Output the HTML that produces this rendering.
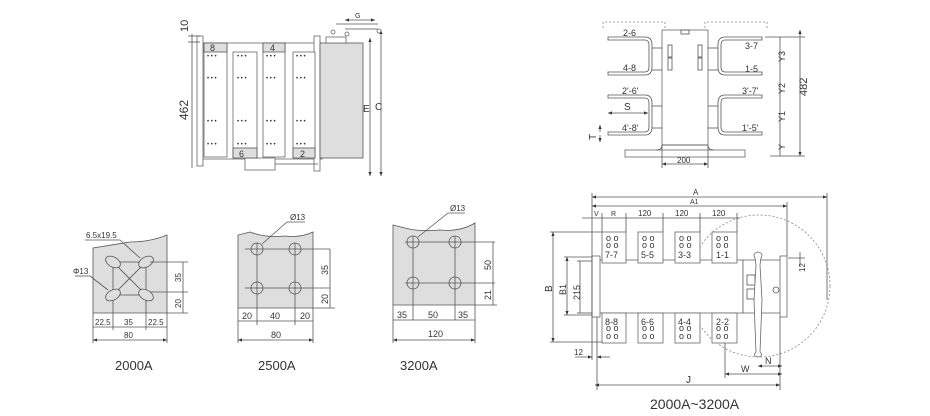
<!DOCTYPE html>
<html><head><meta charset="utf-8"><style>
html,body{margin:0;padding:0;background:#fff;}
svg{display:block;font-family:"Liberation Sans",sans-serif;}
.l{stroke:#555;stroke-width:.8;fill:none}
.g{fill:#dedede;stroke:#555;stroke-width:.8}
.w{fill:#fff;stroke:#666;stroke-width:.8}
.d{stroke:#888;stroke-width:.8;fill:none;stroke-dasharray:2 2}
text{fill:#333;font-size:9px}
</style></head><body>
<svg width="930" height="416" viewBox="0 0 930 416" xmlns="http://www.w3.org/2000/svg">
<defs><marker id="a" markerWidth="6" markerHeight="6" refX="5" refY="3" orient="auto-start-reverse"><path d="M0,1 L5,3 L0,5z" fill="#333"/></marker></defs>

<!-- TOP LEFT front view -->
<g>
<rect class="w" x="200" y="43" width="122" height="116"/>
<rect class="w" x="197" y="36" width="6" height="130"/>
<rect class="w" x="314" y="36" width="6" height="135"/>
<rect class="w" x="245" y="158" width="30" height="12"/>
<line class="l" x1="275" y1="164" x2="318" y2="164"/>
<rect class="g" x="320" y="43" width="43" height="115"/>
<rect class="w" x="326" y="37" width="20" height="6"/>
<g class="w">
<rect x="204" y="43" width="23" height="114"/><rect x="233" y="52" width="24" height="105"/>
<rect x="263" y="43" width="22" height="114"/><rect x="293" y="52" width="22" height="105"/>
</g>
<g class="g"><rect x="204" y="43" width="23" height="9"/><rect x="263" y="43" width="22" height="9"/>
<rect x="233" y="148" width="24" height="10"/><rect x="293" y="148" width="22" height="10"/></g>
<text x="210" y="51">8</text><text x="270" y="51">4</text><text x="239" y="157">6</text><text x="300" y="157">2</text>
<g fill="#555">
<text x="207" y="58" style="font-size:6px">• • •</text><text x="207" y="80" style="font-size:6px">• • •</text><text x="207" y="123" style="font-size:6px">• • •</text><text x="207" y="146" style="font-size:6px">• • •</text>
<text x="237" y="58" style="font-size:6px">• • •</text><text x="237" y="80" style="font-size:6px">• • •</text><text x="237" y="123" style="font-size:6px">• • •</text><text x="237" y="146" style="font-size:6px">• • •</text>
<text x="266" y="58" style="font-size:6px">• • •</text><text x="266" y="80" style="font-size:6px">• • •</text><text x="266" y="123" style="font-size:6px">• • •</text><text x="266" y="146" style="font-size:6px">• • •</text>
<text x="296" y="58" style="font-size:6px">• • •</text><text x="296" y="80" style="font-size:6px">• • •</text><text x="296" y="123" style="font-size:6px">• • •</text><text x="296" y="146" style="font-size:6px">• • •</text>
</g>
<line class="l" x1="192" y1="34" x2="192" y2="168"/>
<line class="l" x1="188" y1="36" x2="200" y2="36"/><line class="l" x1="188" y1="42" x2="200" y2="42"/>
<text x="0" y="0" transform="translate(188,120) rotate(-90)" style="font-size:12px">462</text>
<text x="0" y="0" transform="translate(188,32) rotate(-90)" style="font-size:11px">10</text>
<line class="l" x1="370" y1="38" x2="370" y2="176" marker-start="url(#a)" marker-end="url(#a)"/>
<line class="l" x1="381" y1="30" x2="381" y2="176" marker-start="url(#a)" marker-end="url(#a)"/>
<line class="l" x1="345" y1="29" x2="378" y2="29"/><line class="l" x1="336" y1="24" x2="378" y2="24"/>
<circle class="w" cx="333" cy="32" r="2"/><circle class="w" cx="347" cy="34" r="2"/><circle class="w" cx="379" cy="31" r="2"/>
<line class="l" x1="345" y1="20" x2="375" y2="20" marker-start="url(#a)" marker-end="url(#a)"/>
<text x="355" y="18" style="font-size:7px">G</text>
<text x="363" y="112" style="font-size:10px">E</text><text x="375" y="110" style="font-size:10px">C</text>
</g>

<!-- TOP RIGHT side view -->
<g>
<path class="d" d="M603,28 V22 H665 V28 M705,28 V22 H767 V28"/>
<rect class="w" x="662" y="30" width="46" height="115"/>
<rect class="w" x="625" y="150" width="120" height="7"/>
<path class="l" d="M662,145 Q662,150 656,150 M708,145 Q708,150 714,150"/>
<line class="l" x1="662" y1="145" x2="708" y2="145"/>
<rect class="l" x="668" y="45" width="4" height="12"/><rect class="l" x="668" y="58" width="4" height="12"/>
<rect class="l" x="698" y="45" width="4" height="12"/><rect class="l" x="698" y="58" width="4" height="12"/>
<rect class="l" x="681" y="30" width="8" height="4"/>
<g class="l">
<path d="M608,37 H645 Q652,37 652,45 V67 Q652,75 645,75 H608 V72 H645 Q649,72 649,67 V45 Q649,40 645,40 H608 Z"/>
<path d="M608,95 H645 Q652,95 652,103 V127 Q652,135 645,135 H608 V132 H645 Q649,132 649,127 V103 Q649,98 645,98 H608 Z"/>
<path d="M762,37 H725 Q718,37 718,45 V67 Q718,75 725,75 H762 V72 H725 Q721,72 721,67 V45 Q721,40 725,40 H762 Z"/>
<path d="M762,95 H725 Q718,95 718,103 V127 Q718,135 725,135 H762 V132 H725 Q721,132 721,127 V103 Q721,98 725,98 H762 Z"/>
<line x1="652" y1="48" x2="662" y2="48"/><line x1="652" y1="70" x2="662" y2="70"/><line x1="652" y1="106" x2="662" y2="106"/><line x1="652" y1="128" x2="662" y2="128"/>
<line x1="708" y1="48" x2="718" y2="48"/><line x1="708" y1="70" x2="718" y2="70"/><line x1="708" y1="106" x2="718" y2="106"/><line x1="708" y1="128" x2="718" y2="128"/>
</g>
<text x="623" y="36">2-6</text><text x="623" y="71">4-8</text><text x="622" y="94">2'-6'</text><text x="622" y="131">4'-8'</text>
<text x="745" y="49">3-7</text><text x="745" y="72">1-5</text><text x="742" y="94">3'-7'</text><text x="742" y="131">1'-5'</text>
<line class="l" x1="608" y1="113" x2="648" y2="113" marker-start="url(#a)" marker-end="url(#a)"/>
<text x="624" y="110" style="font-size:10px">S</text>
<line class="l" x1="600" y1="132" x2="600" y2="125" marker-end="url(#a)"/><line class="l" x1="600" y1="135" x2="600" y2="142" marker-end="url(#a)"/>
<text x="0" y="0" transform="translate(596,140) rotate(-90)" style="font-size:10px">T</text>
<line class="l" x1="780" y1="37" x2="780" y2="156"/><line class="l" x1="800" y1="30" x2="800" y2="156" marker-start="url(#a)" marker-end="url(#a)"/>
<line class="l" x1="765" y1="37" x2="805" y2="37"/><line class="l" x1="770" y1="156" x2="805" y2="156"/>
<text x="0" y="0" transform="translate(785,62) rotate(-90)">Y3</text>
<text x="0" y="0" transform="translate(785,94) rotate(-90)">Y2</text>
<text x="0" y="0" transform="translate(785,122) rotate(-90)">Y1</text>
<text x="0" y="0" transform="translate(785,150) rotate(-90)">Y</text>
<text x="0" y="0" transform="translate(807,96) rotate(-90)" style="font-size:11px">482</text>
<line class="l" x1="662" y1="164" x2="708" y2="164" marker-start="url(#a)" marker-end="url(#a)"/>
<line class="l" x1="662" y1="145" x2="662" y2="168"/><line class="l" x1="708" y1="145" x2="708" y2="168"/>
<text x="677" y="163" style="font-size:8px">200</text>
</g>

<!-- BOTTOM LEFT panels -->
<g>
<path class="g" d="M93,248 L93,313 L167,313 L167,235 Q150,242 130,242 Z"/>
<g class="l"><rect x="113" y="262" width="33" height="33"/><line x1="113" y1="262" x2="146" y2="295"/><line x1="146" y1="262" x2="113" y2="295"/></g>
<g class="g"><ellipse cx="113" cy="262" rx="8" ry="5" transform="rotate(30 113 262)"/><ellipse cx="146" cy="262" rx="8" ry="5" transform="rotate(-30 146 262)"/>
<ellipse cx="113" cy="295" rx="8" ry="5" transform="rotate(-30 113 295)"/><ellipse cx="146" cy="295" rx="8" ry="5" transform="rotate(30 146 295)"/></g>
<line class="l" x1="85" y1="240" x2="120" y2="240"/><line class="l" x1="120" y1="240" x2="140" y2="258"/>
<line class="l" x1="75" y1="276" x2="90" y2="276"/><line class="l" x1="90" y1="276" x2="108" y2="290"/>
<text x="86" y="238" style="font-size:8px">6.5x19.5</text><text x="73" y="274" style="font-size:8px">Φ13</text>
<line class="l" x1="150" y1="262" x2="188" y2="262"/><line class="l" x1="150" y1="292" x2="188" y2="292"/>
<line class="l" x1="183" y1="262" x2="183" y2="313"/><line class="l" x1="167" y1="313" x2="188" y2="313"/>
<text x="0" y="0" transform="translate(181,282) rotate(-90)" style="font-size:8px">35</text>
<text x="0" y="0" transform="translate(181,308) rotate(-90)" style="font-size:8px">20</text>
<line class="l" x1="93" y1="313" x2="93" y2="343"/><line class="l" x1="167" y1="313" x2="167" y2="343"/>
<line class="l" x1="113" y1="300" x2="113" y2="330"/><line class="l" x1="146" y1="300" x2="146" y2="330"/>
<line class="l" x1="93" y1="327" x2="167" y2="327"/><line class="l" x1="93" y1="340" x2="167" y2="340" marker-start="url(#a)" marker-end="url(#a)"/>
<text x="95" y="325" style="font-size:8px">22.5</text><text x="124" y="325" style="font-size:8px">35</text><text x="148" y="325" style="font-size:8px">22.5</text>
<text x="124" y="338" style="font-size:8px">80</text>
<text x="115" y="370" style="font-size:13px">2000A</text>

<path class="g" d="M238,235 L238,308 L313,308 L313,232 Q300,238 285,236 Q265,238 250,232 Z"/>
<g class="l"><line x1="245" y1="249" x2="330" y2="249"/><line x1="245" y1="288" x2="330" y2="288"/>
<line x1="257" y1="243" x2="257" y2="325"/><line x1="295" y1="243" x2="295" y2="325"/>
<circle cx="257" cy="249" r="6"/><circle cx="295" cy="249" r="6"/><circle cx="257" cy="288" r="6"/><circle cx="295" cy="288" r="6"/>
<line x1="262" y1="244" x2="287" y2="222"/><line x1="287" y1="222" x2="305" y2="222"/>
<line x1="330" y1="249" x2="330" y2="308"/><line x1="313" y1="308" x2="335" y2="308"/>
<line x1="238" y1="308" x2="238" y2="343"/><line x1="313" y1="308" x2="313" y2="343"/>
<line x1="238" y1="321" x2="313" y2="321"/><line x1="238" y1="340" x2="313" y2="340" marker-start="url(#a)" marker-end="url(#a)"/></g>
<text x="290" y="220" style="font-size:8px">Ø13</text>
<text x="0" y="0" transform="translate(328,275) rotate(-90)" style="font-size:9px">35</text>
<text x="0" y="0" transform="translate(328,304) rotate(-90)" style="font-size:9px">20</text>
<text x="242" y="319">20</text><text x="270" y="319">40</text><text x="300" y="319">20</text><text x="271" y="338">80</text>
<text x="258" y="370" style="font-size:13px">2500A</text>

<path class="g" d="M393,225 L393,305 L475,305 L475,223 Q460,232 440,230 Q420,232 405,228 Z"/>
<g class="l"><line x1="405" y1="242" x2="495" y2="242"/><line x1="405" y1="283" x2="495" y2="283"/>
<line x1="413" y1="236" x2="413" y2="320"/><line x1="455" y1="236" x2="455" y2="320"/>
<circle cx="413" cy="242" r="6"/><circle cx="455" cy="242" r="6"/><circle cx="413" cy="283" r="6"/><circle cx="455" cy="283" r="6"/>
<line x1="418" y1="237" x2="448" y2="213"/><line x1="448" y1="213" x2="465" y2="213"/>
<line x1="493" y1="242" x2="493" y2="305"/><line x1="475" y1="305" x2="497" y2="305"/>
<line x1="393" y1="305" x2="393" y2="343"/><line x1="475" y1="305" x2="475" y2="343"/>
<line x1="393" y1="320" x2="475" y2="320"/><line x1="393" y1="340" x2="475" y2="340" marker-start="url(#a)" marker-end="url(#a)"/></g>
<text x="450" y="211" style="font-size:8px">Ø13</text>
<text x="0" y="0" transform="translate(491,270) rotate(-90)">50</text>
<text x="0" y="0" transform="translate(491,300) rotate(-90)">21</text>
<text x="397" y="318">35</text><text x="428" y="318">50</text><text x="458" y="318">35</text><text x="428" y="337">120</text>
<text x="400" y="370" style="font-size:13px">3200A</text>
</g>

<!-- BOTTOM RIGHT top view -->
<g>
<circle class="d" cx="759" cy="286" r="71"/>
<rect class="w" x="592" y="260" width="151" height="53"/>
<rect class="w" x="592" y="256" width="8" height="61"/>
<rect class="w" x="743" y="260" width="39" height="53"/>
<rect class="w" x="780" y="256" width="7" height="61"/>
<g class="w">
<rect x="602" y="232" width="24" height="31"/><rect x="638" y="232" width="25" height="31"/><rect x="675" y="232" width="25" height="31"/><rect x="712" y="232" width="25" height="31"/>
<rect x="602" y="313" width="24" height="30"/><rect x="638" y="313" width="25" height="30"/><rect x="675" y="313" width="25" height="30"/><rect x="712" y="313" width="25" height="30"/>
</g>
<g fill="#555" style="font-size:6px">
<text x="606" y="241">o o</text><text x="606" y="248">o o</text><text x="642" y="241">o o</text><text x="642" y="248">o o</text>
<text x="679" y="241">o o</text><text x="679" y="248">o o</text><text x="716" y="241">o o</text><text x="716" y="248">o o</text>
<text x="606" y="331">o o</text><text x="606" y="339">o o</text><text x="642" y="331">o o</text><text x="642" y="339">o o</text>
<text x="679" y="331">o o</text><text x="679" y="339">o o</text><text x="716" y="331">o o</text><text x="716" y="339">o o</text>
</g>
<text x="605" y="258">7-7</text><text x="641" y="258">5-5</text><text x="678" y="258">3-3</text><text x="716" y="258">1-1</text>
<text x="605" y="325">8-8</text><text x="641" y="325">6-6</text><text x="678" y="325">4-4</text><text x="716" y="325">2-2</text>
<rect class="l" x="747" y="275" width="8" height="10"/><rect class="l" x="747" y="289" width="8" height="10"/>
<circle class="l" cx="776" cy="290" r="3"/>
<path class="w" d="M755,258 Q752,253 758,252 Q764,253 761,258 L760,265 L762,300 L760,352 Q764,356 758,357 Q752,356 756,352 L754,300 L756,265 Z"/>
<g class="l">
<line x1="592" y1="197" x2="827" y2="197" marker-start="url(#a)" marker-end="url(#a)"/>
<line x1="592" y1="206" x2="787" y2="206" marker-start="url(#a)" marker-end="url(#a)"/>
<line x1="592" y1="193" x2="592" y2="360"/><line x1="787" y1="202" x2="787" y2="256"/><line x1="827" y1="193" x2="827" y2="300"/>
<line x1="582" y1="218" x2="740" y2="218"/>
<line x1="602" y1="213" x2="602" y2="232"/><line x1="626" y1="213" x2="626" y2="232"/><line x1="663" y1="213" x2="663" y2="232"/><line x1="700" y1="213" x2="700" y2="232"/><line x1="737" y1="213" x2="737" y2="232"/>
<line x1="553" y1="232" x2="553" y2="342" marker-start="url(#a)" marker-end="url(#a)"/>
<line x1="550" y1="232" x2="602" y2="232"/><line x1="550" y1="342" x2="602" y2="342"/>
<line x1="567" y1="257" x2="567" y2="315" marker-start="url(#a)" marker-end="url(#a)"/>
<line x1="564" y1="257" x2="592" y2="257"/><line x1="564" y1="315" x2="592" y2="315"/>
<line x1="580" y1="261" x2="580" y2="313"/><line x1="577" y1="261" x2="592" y2="261"/><line x1="577" y1="313" x2="592" y2="313"/>
<line x1="575" y1="357" x2="592" y2="357" marker-end="url(#a)"/><line x1="610" y1="357" x2="597" y2="357" marker-end="url(#a)"/>
<line x1="597" y1="317" x2="597" y2="390"/><line x1="780" y1="317" x2="780" y2="390"/>
<line x1="595" y1="385" x2="780" y2="385" marker-start="url(#a)" marker-end="url(#a)"/>
<line x1="725" y1="343" x2="725" y2="378"/>
<line x1="725" y1="374" x2="782" y2="374" marker-start="url(#a)" marker-end="url(#a)"/>
<line x1="758" y1="366" x2="782" y2="366" marker-start="url(#a)" marker-end="url(#a)"/>
<line x1="788" y1="258" x2="805" y2="258"/><line x1="800" y1="252" x2="800" y2="266"/>
</g>
<text x="693" y="195" style="font-size:8px">A</text><text x="690" y="204" style="font-size:7px">A1</text>
<text x="594" y="216" style="font-size:7px">V</text><text x="611" y="216" style="font-size:7px">R</text>
<text x="638" y="216" style="font-size:8px">120</text><text x="675" y="216" style="font-size:8px">120</text><text x="712" y="216" style="font-size:8px">120</text>
<text x="0" y="0" transform="translate(552,292) rotate(-90)" style="font-size:10px">B</text>
<text x="0" y="0" transform="translate(566,295) rotate(-90)">B1</text>
<text x="0" y="0" transform="translate(580,300) rotate(-90)">215</text>
<text x="0" y="0" transform="translate(805,272) rotate(-90)" style="font-size:8px">12</text>
<text x="574" y="355" style="font-size:8px">12</text>
<text x="686" y="383" style="font-size:10px">J</text>
<text x="741" y="372">W</text><text x="765" y="364">N</text>
<text x="650" y="409" style="font-size:14px">2000A~3200A</text>
</g>
</svg>
</body></html>
